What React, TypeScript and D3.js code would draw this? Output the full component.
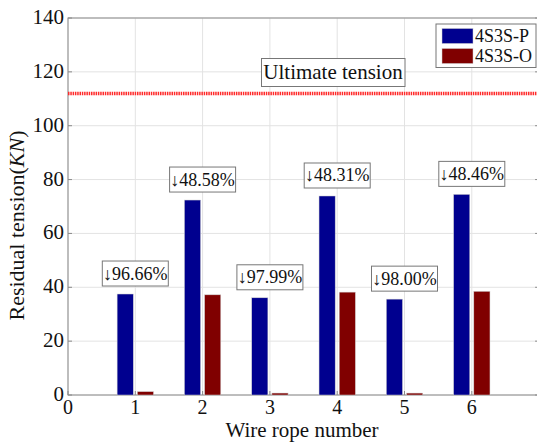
import * as d3 from 'd3';

// data
const wireRopes = [1, 2, 3, 4, 5, 6];
const seriesP = [37.5, 72.4, 36.1, 73.9, 35.6, 74.5];
const seriesO = [1.25, 37.2, 0.72, 38.2, 0.71, 38.5];
const dropLabels = ['↓96.66%', '↓48.58%', '↓97.99%', '↓48.31%', '↓98.00%', '↓48.46%'];
const ultimateTension = 112;
const yTicks = [0, 20, 40, 60, 80, 100, 120, 140];
const xTicks = [0, 1, 2, 3, 4, 5, 6];
const legendNames = ['4S3S-P', '4S3S-O'];
const colors = ['#00008f', '#800000'];

const W = 537, H = 442;
const font = 'Liberation Serif';

export default function App() {
  const left = 68, top = 18, bottom = 395;
  const x = d3.scaleLinear().domain([0, 7]).range([left, left + 7 * 67.3]);
  const y = d3.scaleLinear().domain([0, 140]).range([bottom, top]);
  const right = x(7);
  const barW = x(0.24) - x(0);

  return (
    <svg width={W} height={H} style={{ position: 'absolute', left: 0, top: 0, background: '#fff' }}>
      <g fontFamily={font}>
      {/* grid */}
      {xTicks.concat([7]).map((t) => (
        <line key={'gx' + t} x1={x(t)} x2={x(t)} y1={top} y2={bottom} stroke="#e3e3e3" strokeWidth={1} />
      ))}
      {yTicks.map((t) => (
        <line key={'gy' + t} x1={left} x2={right} y1={y(t)} y2={y(t)} stroke="#e3e3e3" strokeWidth={1} />
      ))}
      {/* frame */}
      <rect x={left} y={top} width={right - left} height={bottom - top} fill="none" stroke="#8a8a8a" strokeWidth={1} />
      {/* ticks */}
      {yTicks.map((t) => (
        <g key={'ty' + t}>
          <line x1={left} x2={left + 4} y1={y(t)} y2={y(t)} stroke="#8a8a8a" />
          <line x1={right - 4} x2={right} y1={y(t)} y2={y(t)} stroke="#8a8a8a" />
          <text x={left - 4} y={y(t) + 6} textAnchor="end" fontSize={21} fill="#111">{t}</text>
        </g>
      ))}
      {xTicks.map((t) => (
        <g key={'tx' + t}>
          <line x1={x(t)} x2={x(t)} y1={bottom} y2={bottom - 4} stroke="#8a8a8a" />
          <text x={x(t)} y={bottom + 19} textAnchor="middle" fontSize={20} fill="#111">{t}</text>
        </g>
      ))}
      {/* bars */}
      {wireRopes.map((r, i) => (
        <g key={'b' + r}>
          <rect x={x(r - 0.15) - barW / 2} y={y(seriesP[i])} width={barW} height={bottom - y(seriesP[i])}
            fill={colors[0]} stroke="#cfcfcf" strokeWidth={0.5} />
          <rect x={x(r + 0.15) - barW / 2} y={y(seriesO[i])} width={barW} height={bottom - y(seriesO[i])}
            fill={colors[1]} stroke="#cfcfcf" strokeWidth={0.5} />
        </g>
      ))}
      {/* drop labels */}
      {wireRopes.map((r, i) => {
        const cy = y(seriesP[i]) - 8 - 12.5;
        return (
          <g key={'l' + r}>
            <rect x={x(r) - 33} y={cy - 12.5} width={66} height={25} fill="#fff" stroke="#777" strokeWidth={1} />
            <text x={x(r)} y={cy + 6} textAnchor="middle" fontSize={18} fill="#111">{dropLabels[i]}</text>
          </g>
        );
      })}
      {/* ultimate tension */}
      <line x1={left} x2={right} y1={y(ultimateTension)} y2={y(ultimateTension)} stroke="#ff2a2a" strokeWidth={3.5} strokeDasharray="1.5 0.8" />
      <rect x={261.5} y={58.5} width={143.5} height={28} fill="#fff" stroke="#777" strokeWidth={1} />
      <text x={333} y={79} textAnchor="middle" fontSize={21} fill="#111">Ultimate tension</text>
      {/* legend */}
      <rect x={436} y={24} width={100} height={43.5} fill="#fff" stroke="#777" strokeWidth={1} />
      {legendNames.map((n, i) => (
        <g key={n}>
          <rect x={442} y={28.5 + i * 20} width={31} height={15} fill={colors[i]} stroke="#cfcfcf" strokeWidth={0.5} />
          <text x={475} y={42 + i * 20} fontSize={18} fill="#111">{n}</text>
        </g>
      ))}
      {/* axis titles */}
      <text x={302} y={436.5} textAnchor="middle" fontSize={21} fill="#111">Wire rope number</text>
      <text transform={`translate(24, 225.5) rotate(-90)`} textAnchor="middle" fontSize={22} fill="#111">
        Residual tension(<tspan fontStyle="italic">KN</tspan>)
      </text>
      </g>
    </svg>
  );
}
